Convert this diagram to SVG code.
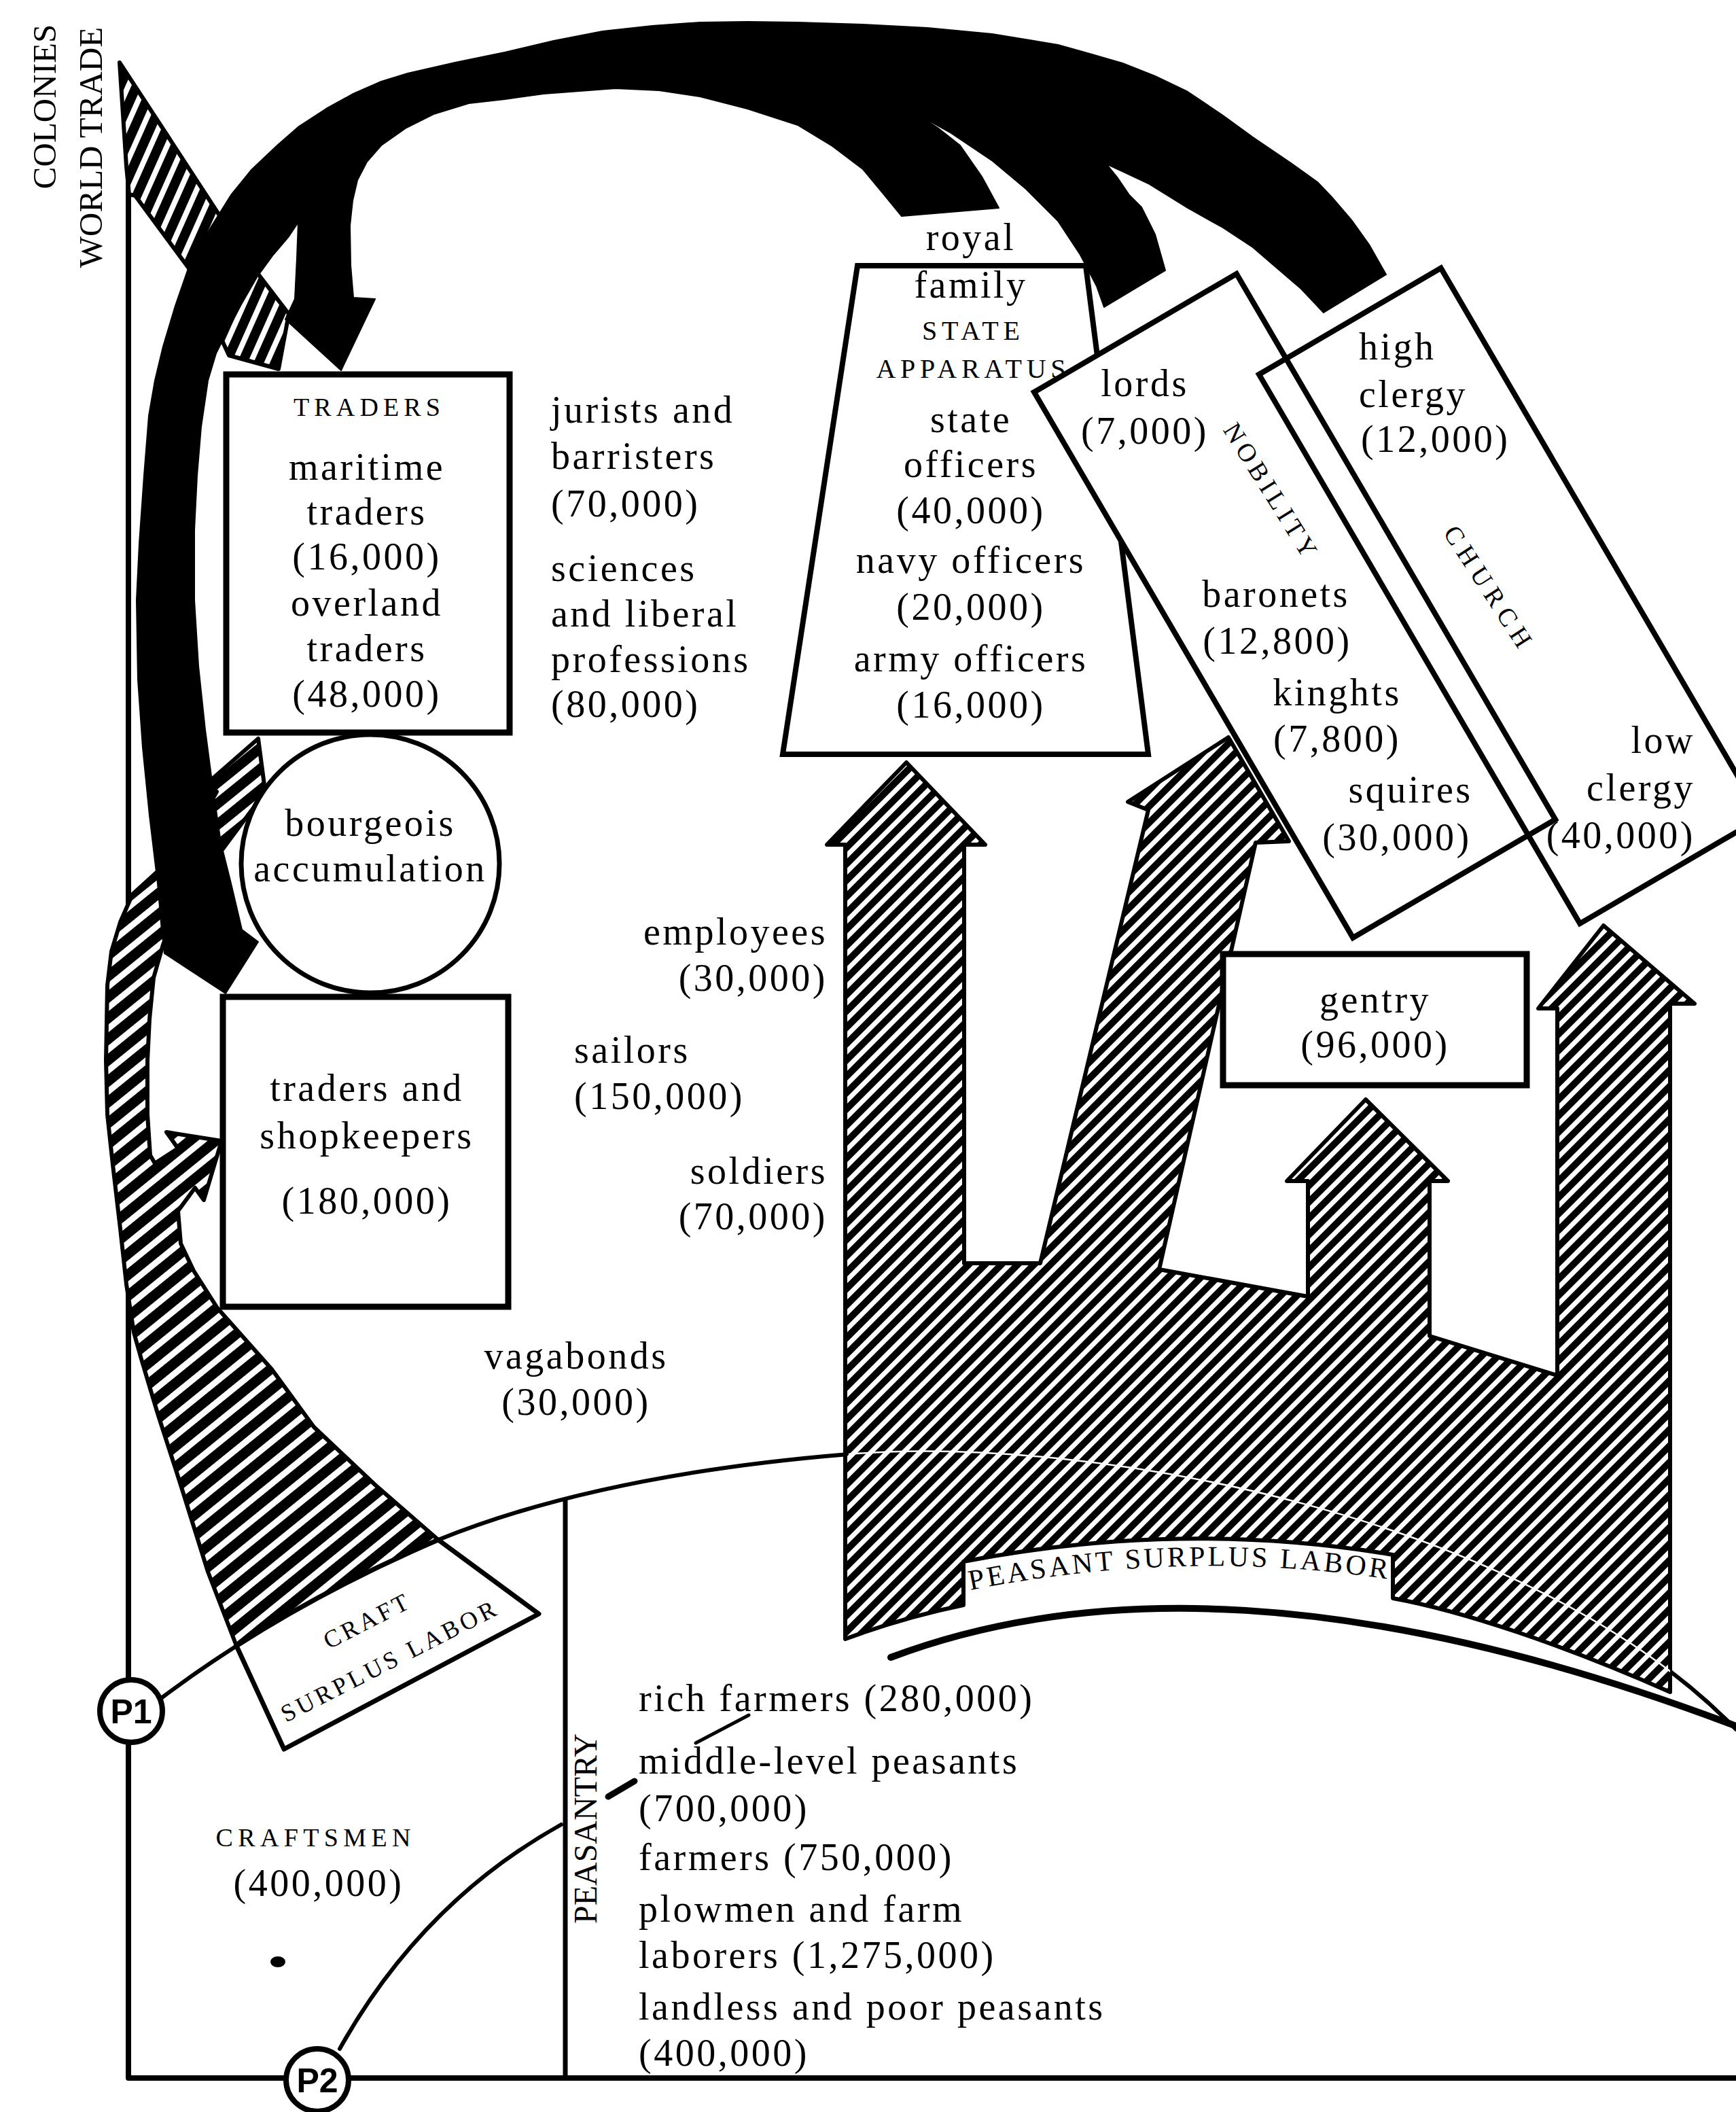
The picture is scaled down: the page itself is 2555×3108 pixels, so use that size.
<svg xmlns="http://www.w3.org/2000/svg" width="2555" height="3108" viewBox="0 0 2555 3108">
<defs>
<style>
.ln{fill:none;stroke:#000;stroke-width:8;stroke-linecap:round;stroke-linejoin:round}
.box{fill:#fff;stroke:#000;stroke-width:9}
.hp{fill:url(#hatchP);stroke:#000;stroke-width:6;stroke-linejoin:round}
.hc{fill:url(#hatchC);stroke:#000;stroke-width:6;stroke-linejoin:round}
.hw{fill:url(#hatchW);stroke:#000;stroke-width:6;stroke-linejoin:round}
.blk{fill:#000;stroke:#000;stroke-width:2;stroke-linejoin:round}
.t{font-family:"Liberation Serif","Times New Roman",serif;font-size:56px;letter-spacing:3.5px;fill:#000}
.m{text-anchor:middle}
.e{text-anchor:end}
.cap{font-size:38px;letter-spacing:0px}
.pl{font-family:"Liberation Sans",Arial,sans-serif;font-size:50px;font-weight:bold;text-anchor:middle;fill:#000}
</style>
<pattern id="hatchP" patternUnits="userSpaceOnUse" width="40" height="17" patternTransform="rotate(-45)"><rect width="40" height="17" fill="#000"/><rect width="40" height="7" fill="#fff"/></pattern>
<pattern id="hatchC" patternUnits="userSpaceOnUse" width="40" height="24" patternTransform="rotate(-39)"><rect width="40" height="24" fill="#000"/><rect width="40" height="9" fill="#fff"/></pattern>
<pattern id="hatchW" patternUnits="userSpaceOnUse" width="40" height="22" patternTransform="rotate(-66)"><rect width="40" height="22" fill="#000"/><rect width="40" height="8" fill="#fff"/></pattern>
<path id="peasRegion" d="M1244,2412 L1244,1243 L1217,1243 L1334,1122 L1450,1243 L1419,1243 L1419,1859 L1531,1859 L1690,1192 L1660,1180 L1808,1085 L1897,1238 L1848,1240 L1706,1868 L1925,1908 L1925,1738 L1894,1738 L2010,1618 L2131,1738 L2104,1738 L2104,1966 L2292,2024 L2292,1484 L2264,1484 L2360,1362 L2494,1477 L2458,1477 L2458,2490 C2300,2420 2150,2370 2050,2352 L2050,2288 Q1740,2236 1418,2298 L1418,2362 Q1330,2380 1244,2412 Z"/>
<clipPath id="peasClip"><use href="#peasRegion"/></clipPath>
<path id="pslPath" d="M1428,2340 Q1740,2278 2045,2324"/>
</defs>
<rect width="2555" height="3108" fill="#fff"/>

<g id="connectors">
  <path class="ln" d="M189,245 L189,3058 L2555,3058"/>
  <path class="ln" d="M832,2209 L832,3058" style="stroke-width:7"/>
  <path class="ln" d="M236,2500 Q415,2365 645,2266 Q882,2170 1249,2140 C1600,2110 2250,2230 2555,2545" style="stroke-width:6"/>
  <path class="ln" d="M1311,2439 C1600,2330 2000,2330 2555,2540" style="stroke-width:10"/>
  <path class="ln" d="M500,3015 Q620,2800 826,2685" style="stroke-width:6"/>
  <path class="ln" d="M895,2644 L934,2621" style="stroke-width:9"/>
  <path class="ln" d="M1024,2565 L1102,2524" style="stroke-width:5"/>
  <ellipse cx="409" cy="2887" rx="11" ry="8" fill="#000"/>

  <g id="peasant-surplus">
    <use href="#peasRegion" class="hp"/>
    <path d="M1249,2140 C1600,2110 2250,2230 2555,2545" fill="none" stroke="#fff" stroke-width="2.5" clip-path="url(#peasClip)"/>
    <text class="t cap" style="font-size:42px;letter-spacing:4px"><textPath href="#pslPath">PEASANT SURPLUS LABOR</textPath></text>
  </g>

  <g id="craft-surplus">
    <path class="hc" d="M348,2422 L306,2313 L264,2179 L232,2080 L208,2000 L197,1961 L186,1890 L177,1808 L166,1714 L158,1640 L156,1561 L158,1450 L164,1400 L177,1357 L195,1316 L239,1276 L280,1235 L319,1165 L300,1157 L380,1087 L394,1193 L375,1186 L320,1260 L257,1347 L240,1390 L226,1439 L220,1500 L217,1561 L217,1640 L221,1700 L228,1712 L262,1690 L245,1666 L326,1679 L300,1766 L287,1748 L262,1782 L266,1830 L285,1870 L320,1925 L360,1970 L400,2015 L462,2100 L552,2185 L645,2266 Q484,2335 348,2422 Z"/>
    <path d="M348,2422 Q484,2335 645,2266 L793,2375 L418,2574 Z" fill="#fff" stroke="#000" stroke-width="7" stroke-linejoin="round"/>
    <text class="t m cap" style="font-size:36px" transform="translate(538,2385) rotate(-27)" y="13" textLength="135">CRAFT</text>
    <text class="t m cap" style="font-size:36px" transform="translate(571,2444) rotate(-27)" y="13" textLength="350">SURPLUS LABOR</text>
  </g>

  <g id="world-trade-flow">
    <path class="hw" d="M176,92 L250,205 L321,314 L376,398 L425,462 L410,543 L337,523 L278,395 L199,288 L190,286 L186,245 Z"/>
  </g>

  <g id="surplus-flow-black">
    <path class="blk" d="M2040,404 L2015,360 L1990,325 L1960,290 L1939,268 L1900,240 L1844,202 L1800,170 L1748,135 L1700,112 L1652,93 L1600,78 L1557,66 L1460,50 L1365,41 L1270,36 L1174,33 L1100,32 L1030,33 L960,38 L887,46 L815,60 L743,77 L670,92 L600,108 L561,120 L520,138 L480,160 L440,186 L408,214 L370,250 L340,287 L310,335 L290,370 L276,398 L258,450 L240,510 L228,560 L219,612 L212,700 L205,800 L201,883 L203,1000 L210,1100 L220,1200 L232,1300 L238,1370 L242,1403 L332,1462 L380,1386 L356,1368 L340,1300 L325,1240 L312,1150 L302,1074 L292,980 L286,883 L286,780 L290,700 L296,628 L306,560 L318,520 L334,488 L355,448 L378,408 L402,375 L425,348 L439,327 L437,380 L434,440 L420,470 L502,545 L552,440 L520,438 L516,390 L515,332 L519,295 L526,265 L540,238 L561,214 L598,188 L638,168 L690,152 L743,146 L800,138 L906,130 L970,133 L1030,142 L1100,160 L1174,184 L1225,215 L1270,249 L1300,285 L1327,318 L1470,306 L1445,260 L1413,214 L1380,188 L1346,166 L1400,196 L1461,237 L1510,278 L1557,325 L1590,375 L1614,421 L1625,452 L1715,398 L1700,345 L1680,305 L1662,287 L1645,262 L1628,241 L1690,270 L1748,306 L1800,335 L1844,364 L1880,395 L1915,425 L1948,460 Z"/>
  </g>
</g>

<g id="labels-axis">
  <text class="t m cap" style="font-size:49px" transform="translate(82,157) rotate(-90)">COLONIES</text>
  <text class="t m cap" style="font-size:49px" transform="translate(150,217) rotate(-90)">WORLD TRADE</text>
</g>

<g id="traders">
  <rect class="box" x="333" y="551" width="417" height="527"/>
  <text class="t m cap" x="540" y="612" textLength="216">TRADERS</text>
  <text class="t m" x="540" y="706">maritime</text>
  <text class="t m" x="540" y="772">traders</text>
  <text class="t m" x="540" y="838">(16,000)</text>
  <text class="t m" x="540" y="906">overland</text>
  <text class="t m" x="540" y="973">traders</text>
  <text class="t m" x="540" y="1040">(48,000)</text>
</g>

<g id="jurists">
  <text class="t" x="811" y="622">jurists and</text>
  <text class="t" x="811" y="690">barristers</text>
  <text class="t" x="811" y="760">(70,000)</text>
</g>
<g id="sciences">
  <text class="t" x="811" y="855">sciences</text>
  <text class="t" x="811" y="922">and liberal</text>
  <text class="t" x="811" y="989">professions</text>
  <text class="t" x="811" y="1055">(80,000)</text>
</g>

<g id="bourgeois">
  <circle cx="545" cy="1271" r="190" fill="#fff" stroke="#000" stroke-width="7"/>
  <text class="t m" x="545" y="1230">bourgeois</text>
  <text class="t m" x="545" y="1297">accumulation</text>
</g>

<g id="shopkeepers">
  <rect class="box" x="328" y="1467" width="420" height="456"/>
  <text class="t m" x="540" y="1620">traders and</text>
  <text class="t m" x="540" y="1690">shopkeepers</text>
  <text class="t m" x="540" y="1786">(180,000)</text>
</g>

<g id="employees">
  <text class="t e" x="1218" y="1390">employees</text>
  <text class="t e" x="1218" y="1458">(30,000)</text>
</g>
<g id="sailors">
  <text class="t" x="845" y="1564">sailors</text>
  <text class="t" x="845" y="1632">(150,000)</text>
</g>
<g id="soldiers">
  <text class="t e" x="1218" y="1742">soldiers</text>
  <text class="t e" x="1218" y="1809">(70,000)</text>
</g>
<g id="vagabonds">
  <text class="t m" x="848" y="2014">vagabonds</text>
  <text class="t m" x="848" y="2082">(30,000)</text>
</g>

<g id="state-apparatus">
  <polygon class="box" style="stroke-width:8" points="1262,391 1598,391 1690,1110 1152,1110"/>
  <text class="t m" x="1429" y="368">royal</text>
  <text class="t m" x="1429" y="438">family</text>
  <text class="t m cap" style="font-size:40px" x="1429" y="500" textLength="144">STATE</text>
  <text class="t m cap" style="font-size:40px" x="1429" y="556" textLength="279">APPARATUS</text>
  <text class="t m" x="1429" y="636">state</text>
  <text class="t m" x="1429" y="702">officers</text>
  <text class="t m" x="1429" y="770">(40,000)</text>
  <text class="t m" x="1429" y="843">navy officers</text>
  <text class="t m" x="1429" y="912">(20,000)</text>
  <text class="t m" x="1429" y="988">army officers</text>
  <text class="t m" x="1429" y="1056">(16,000)</text>
</g>

<g id="nobility">
  <rect class="box" style="stroke-width:8" x="0" y="0" width="345" height="930" transform="translate(1522,577) rotate(-30.3)"/>
  <text class="t m" x="1685" y="583">lords</text>
  <text class="t m" x="1685" y="653">(7,000)</text>
  <text class="t m cap" transform="translate(1870,721) rotate(58)" y="13" textLength="225">NOBILITY</text>
  <text class="t m" x="1878" y="893">baronets</text>
  <text class="t m" x="1880" y="962">(12,800)</text>
  <text class="t m" x="1968" y="1038">kinghts</text>
  <text class="t m" x="1968" y="1106">(7,800)</text>
  <text class="t m" x="2076" y="1181">squires</text>
  <text class="t m" x="2056" y="1251">(30,000)</text>
</g>

<g id="church">
  <rect x="0" y="0" width="310" height="936" fill="none" stroke="#000" stroke-width="8" transform="translate(1853,551) rotate(-30.3)"/>
  <text class="t" x="2000" y="529">high</text>
  <text class="t" x="2000" y="599">clergy</text>
  <text class="t" x="2003" y="665">(12,000)</text>
  <text class="t m cap" transform="translate(2190,863) rotate(57)" y="13" textLength="205">CHURCH</text>
  <text class="t e" x="2495" y="1108">low</text>
  <text class="t e" x="2495" y="1178">clergy</text>
  <text class="t e" x="2495" y="1248">(40,000)</text>
</g>

<g id="gentry">
  <rect class="box" x="1800" y="1404" width="447" height="193"/>
  <text class="t m" x="2024" y="1490">gentry</text>
  <text class="t m" x="2024" y="1556">(96,000)</text>
</g>

<g id="craftsmen">
  <text class="t m cap" x="461" y="2717" textLength="287">CRAFTSMEN</text>
  <text class="t m" x="469" y="2790">(400,000)</text>
</g>

<g id="peasantry">
  <text class="t m cap" style="font-size:48px" transform="translate(878,2691) rotate(-90)">PEASANTRY</text>
  <text class="t" x="940" y="2518">rich farmers (280,000)</text>
  <text class="t" x="940" y="2610">middle-level peasants</text>
  <text class="t" x="940" y="2680">(700,000)</text>
  <text class="t" x="940" y="2752">farmers (750,000)</text>
  <text class="t" x="940" y="2828">plowmen and farm</text>
  <text class="t" x="940" y="2896">laborers (1,275,000)</text>
  <text class="t" x="940" y="2972">landless and poor peasants</text>
  <text class="t" x="940" y="3040">(400,000)</text>
</g>

<g id="P1">
  <circle cx="193" cy="2518" r="46" fill="#fff" stroke="#000" stroke-width="8"/>
  <text class="pl" x="193" y="2536">P1</text>
</g>
<g id="P2">
  <circle cx="467" cy="3061" r="46" fill="#fff" stroke="#000" stroke-width="8"/>
  <text class="pl" x="467" y="3079">P2</text>
</g>
</svg>
